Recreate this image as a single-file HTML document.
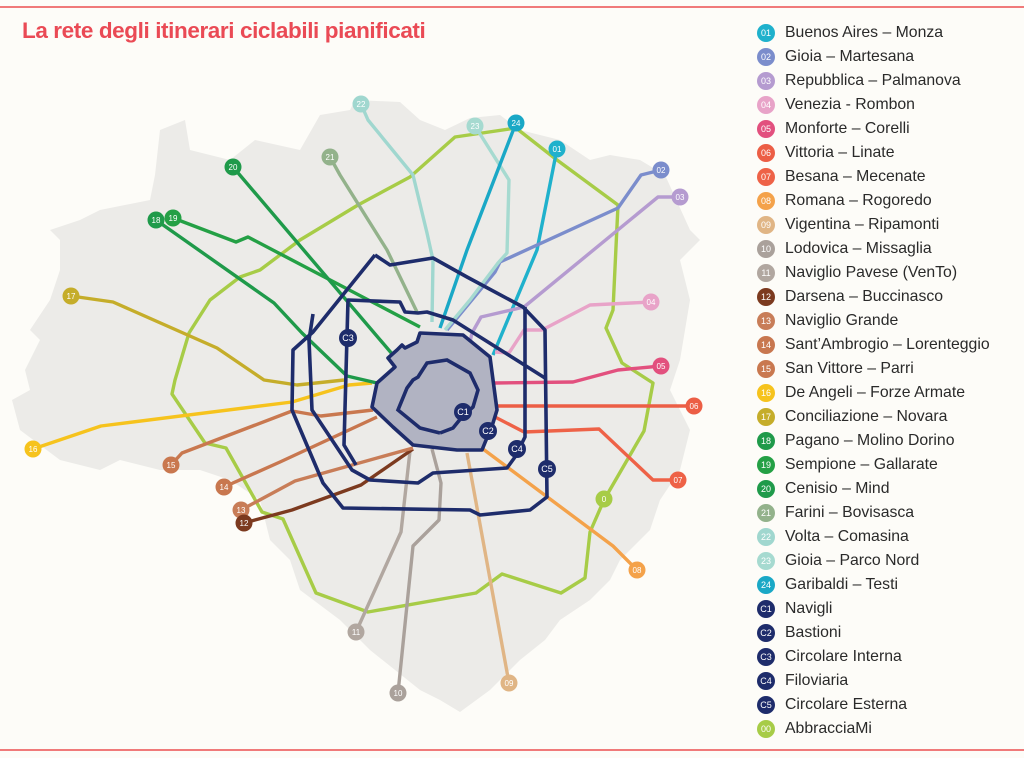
<!DOCTYPE html>
<html><head><meta charset="utf-8"><style>
body{margin:0;background:#fdfcf8;}
#wrap{position:relative;width:1024px;height:758px;overflow:hidden;background:#fdfcf8;font-family:"Liberation Sans",sans-serif;}
.rule{position:absolute;left:0;width:1024px;height:2px;background:#f07a7a;}
#title{position:absolute;left:22px;top:18px;font-size:22.5px;font-weight:bold;color:#ea4a55;letter-spacing:-0.4px;}
.li{position:absolute;left:757px;height:20px;font-size:15.8px;color:#2a2a2a;line-height:20px;}
.li .c{position:absolute;left:0;top:1px;width:18px;height:18px;border-radius:50%;color:#fff;font-size:9px;line-height:18px;text-align:center;}
.li .t{position:absolute;left:28px;white-space:nowrap;}
</style></head><body>
<div id="wrap">
<div class="rule" style="top:6px"></div>
<div class="rule" style="top:749px"></div>
<div id="title">La rete degli itinerari ciclabili pianificati</div>
<svg id="map" width="750" height="758" style="position:absolute;left:0;top:0"></svg>
<div id="legend"></div>
</div>
<script>
const NS="http://www.w3.org/2000/svg";
const svg=document.getElementById('map');
const cityOutline=[[160,130],[185,120],[190,150],[230,160],[255,140],[300,150],[320,115],[350,110],[355,100],[400,102],[420,120],[445,130],[470,118],[500,115],[520,130],[560,140],[590,160],[610,155],[640,160],[665,175],[690,230],[700,240],[680,260],[690,300],[680,360],[670,390],[690,430],[680,470],[660,500],[650,530],[620,560],[610,580],[590,600],[560,620],[545,640],[520,660],[490,690],[460,712],[440,700],[420,690],[370,650],[340,620],[300,590],[290,560],[270,540],[260,500],[230,480],[200,470],[160,470],[120,460],[100,470],[60,460],[20,430],[12,400],[30,390],[25,370],[40,340],[30,330],[50,300],[60,270],[60,240],[50,230],[80,220],[100,210],[150,200],[155,175]];
const centre=[[420,333],[463,335],[490,357],[497,410],[493,423],[482,450],[457,450],[413,445],[393,427],[372,407],[377,383],[395,367],[388,358],[397,350],[402,345],[405,348],[417,342]];
const routeIds=['00','01','02','03','04','05','06','07','08','09','10','11','12','13','14','15','16','17','18','19','20','21','22','23','24','C5','C4','C3','C1'];
const routeColors={'00':'#a7cc47','01':'#1fb1cc','02':'#7b8dcc','03':'#b59bd0','04':'#e8a3c8','05':'#e2507e','06':'#ec5e45','07':'#ee6247','08':'#f4a24a','09':'#e0b585','10':'#aaa19b','11':'#b1a7a0','12':'#7c3a1f','13':'#c87d58','14':'#c8774f','15':'#c9784f','16':'#f6c31d','17':'#c5ad2a','18':'#1f9a4a','19':'#24a045','20':'#1f9a4a','21':'#93b28b','22':'#a0d7cf','23':'#a6dad0','24':'#1aa8c6','C1':'#1e2c6b','C3':'#1e2c6b','C4':'#1e2c6b','C5':'#1e2c6b'};
const routePaths={
'00':[[516,128],[455,137],[410,177],[358,205],[300,240],[260,270],[240,277],[210,300],[189,333],[175,380],[172,394],[205,443],[226,448],[262,512],[283,519],[316,593],[368,612],[476,593],[502,574],[561,593],[585,578],[590,532],[604,500],[644,431],[653,383],[622,363],[606,328],[613,310],[618,205],[557,160],[516,128]],
'01':[[557,149],[537,250],[493,355]],
'02':[[661,170],[641,175],[618,208],[500,262],[495,272],[447,330]],
'03':[[680,197],[658,197],[524,307],[481,317],[472,333],[470,342]],
'04':[[651,302],[590,305],[542,330],[524,330],[509,353],[495,352]],
'05':[[661,366],[618,370],[573,382],[495,383]],
'06':[[694,406],[497,406]],
'07':[[678,480],[653,480],[599,429],[524,432],[495,417]],
'08':[[637,570],[613,546],[483,449]],
'09':[[509,683],[467,453]],
'10':[[398,693],[413,546],[439,520],[441,483],[432,449]],
'11':[[356,632],[401,532],[410,451]],
'12':[[244,523],[292,510],[361,485],[413,449]],
'13':[[241,510],[295,481],[413,448]],
'14':[[224,487],[280,462],[377,417]],
'15':[[171,465],[182,453],[292,411],[321,416],[373,410]],
'16':[[33,449],[101,426],[292,402],[349,385],[372,383]],
'17':[[71,296],[113,302],[217,348],[264,380],[297,385],[344,380]],
'18':[[156,220],[274,303],[302,333],[347,376],[377,383]],
'19':[[173,218],[236,242],[248,237],[420,327]],
'20':[[233,167],[393,355]],
'21':[[330,157],[340,175],[387,250],[417,312]],
'22':[[361,104],[368,120],[413,175],[427,233],[433,260],[432,322]],
'23':[[475,126],[509,180],[507,253],[498,263],[470,300],[445,330]],
'24':[[516,123],[467,250],[440,328]],
'C5':[[375,255],[390,265],[433,258],[467,277],[523,307],[545,330],[547,497],[530,510],[480,515],[470,510],[343,508],[323,483],[292,410],[293,350],[313,332],[375,255]],
'C4':[[313,314],[309,340],[312,410],[352,470],[370,480],[418,483],[433,473],[507,468],[515,457],[525,437],[525,307]],
'C3':[[545,378],[453,320],[427,312],[418,313],[405,312],[400,302],[348,300],[344,445],[356,465]],
'C1':[[440,433],[420,428],[398,410],[407,388],[413,380],[418,377],[427,363],[447,360],[470,373],[478,390],[473,407],[462,417],[453,428],[440,433]]
};
const endLabels=[['22',361,104],['23',475,126],['24',516,123],['01',557,149],['21',330,157],['20',233,167],['18',156,220],['19',173,218],['02',661,170],['03',680,197],['17',71,296],['04',651,302],['05',661,366],['06',694,406],['07',678,480],['16',33,449],['15',171,465],['14',224,487],['13',241,510],['12',244,523],['0',604,499],['08',637,570],['11',356,632],['10',398,693],['09',509,683]];
const ringLabels=[['C3',348,338],['C1',463,412],['C2',488,431],['C4',517,449],['C5',547,469]];
function mk(tag,attrs){const e=document.createElementNS(NS,tag);for(const k in attrs)e.setAttribute(k,attrs[k]);return e;}
const pts=a=>a.map(p=>p.join(',')).join(' ');
const outline=mk('polygon',{points:pts(cityOutline),fill:'#ecebe8'});


svg.appendChild(outline);
routeIds.forEach(id=>{
  const l=mk('polyline',{points:pts(routePaths[id]),fill:'none',stroke:routeColors[id],'stroke-width':id[0]==='C'?3.6:3.4,'stroke-linejoin':'round'});
  
  
  svg.appendChild(l);
});
const cz=mk('polygon',{points:pts(centre),fill:'#b1b3c2',stroke:'#1e2c6b','stroke-width':3.6,'stroke-linejoin':'round'});


svg.appendChild(cz);
const c1=mk('polyline',{points:pts(routePaths['C1']),fill:'none',stroke:'#1e2c6b','stroke-width':3.6});


svg.appendChild(c1);
function marker(lbl,x,y,col){
  const g=mk('g',{});
  
  
  g.appendChild(mk('circle',{cx:x,cy:y,r:lbl[0]==='C'?9:8.5,fill:col}));
  const t=mk('text',{x:x,y:y+3,'text-anchor':'middle','font-size':lbl[0]==='C'?9:8,fill:'#fff','font-family':'Liberation Sans, sans-serif'});
  t.textContent=lbl;g.appendChild(t);svg.appendChild(g);
}
endLabels.forEach(([l,x,y])=>marker(l,x,y,routeColors[l==='0'?'00':l]));
ringLabels.forEach(([l,x,y])=>marker(l,x,y,'#1e2c6b'));
const legendCodes=['01','02','03','04','05','06','07','08','09','10','11','12','13','14','15','16','17','18','19','20','21','22','23','24','C1','C2','C3','C4','C5','00'];
const legendNames=['Buenos Aires – Monza','Gioia – Martesana','Repubblica – Palmanova','Venezia - Rombon','Monforte – Corelli','Vittoria – Linate','Besana – Mecenate','Romana – Rogoredo','Vigentina – Ripamonti','Lodovica – Missaglia','Naviglio Pavese (VenTo)','Darsena – Buccinasco','Naviglio Grande','Sant’Ambrogio – Lorenteggio','San Vittore – Parri','De Angeli – Forze Armate','Conciliazione – Novara','Pagano – Molino Dorino','Sempione – Gallarate','Cenisio – Mind','Farini – Bovisasca','Volta – Comasina','Gioia – Parco Nord','Garibaldi – Testi','Navigli','Bastioni','Circolare Interna','Filoviaria','Circolare Esterna','AbbracciaMi'];
const leg=document.getElementById('legend');
legendCodes.forEach((c,i)=>{
  const d=document.createElement('div');d.className='li';d.style.top=(23+i*24)+'px';
  
  
  const col=routeColors[c]||'#1e2c6b';
  d.innerHTML='<span class="c" style="background:'+col+'">'+c+'</span><span class="t">'+legendNames[i]+'</span>';
  leg.appendChild(d);
});
</script>
</body></html>
